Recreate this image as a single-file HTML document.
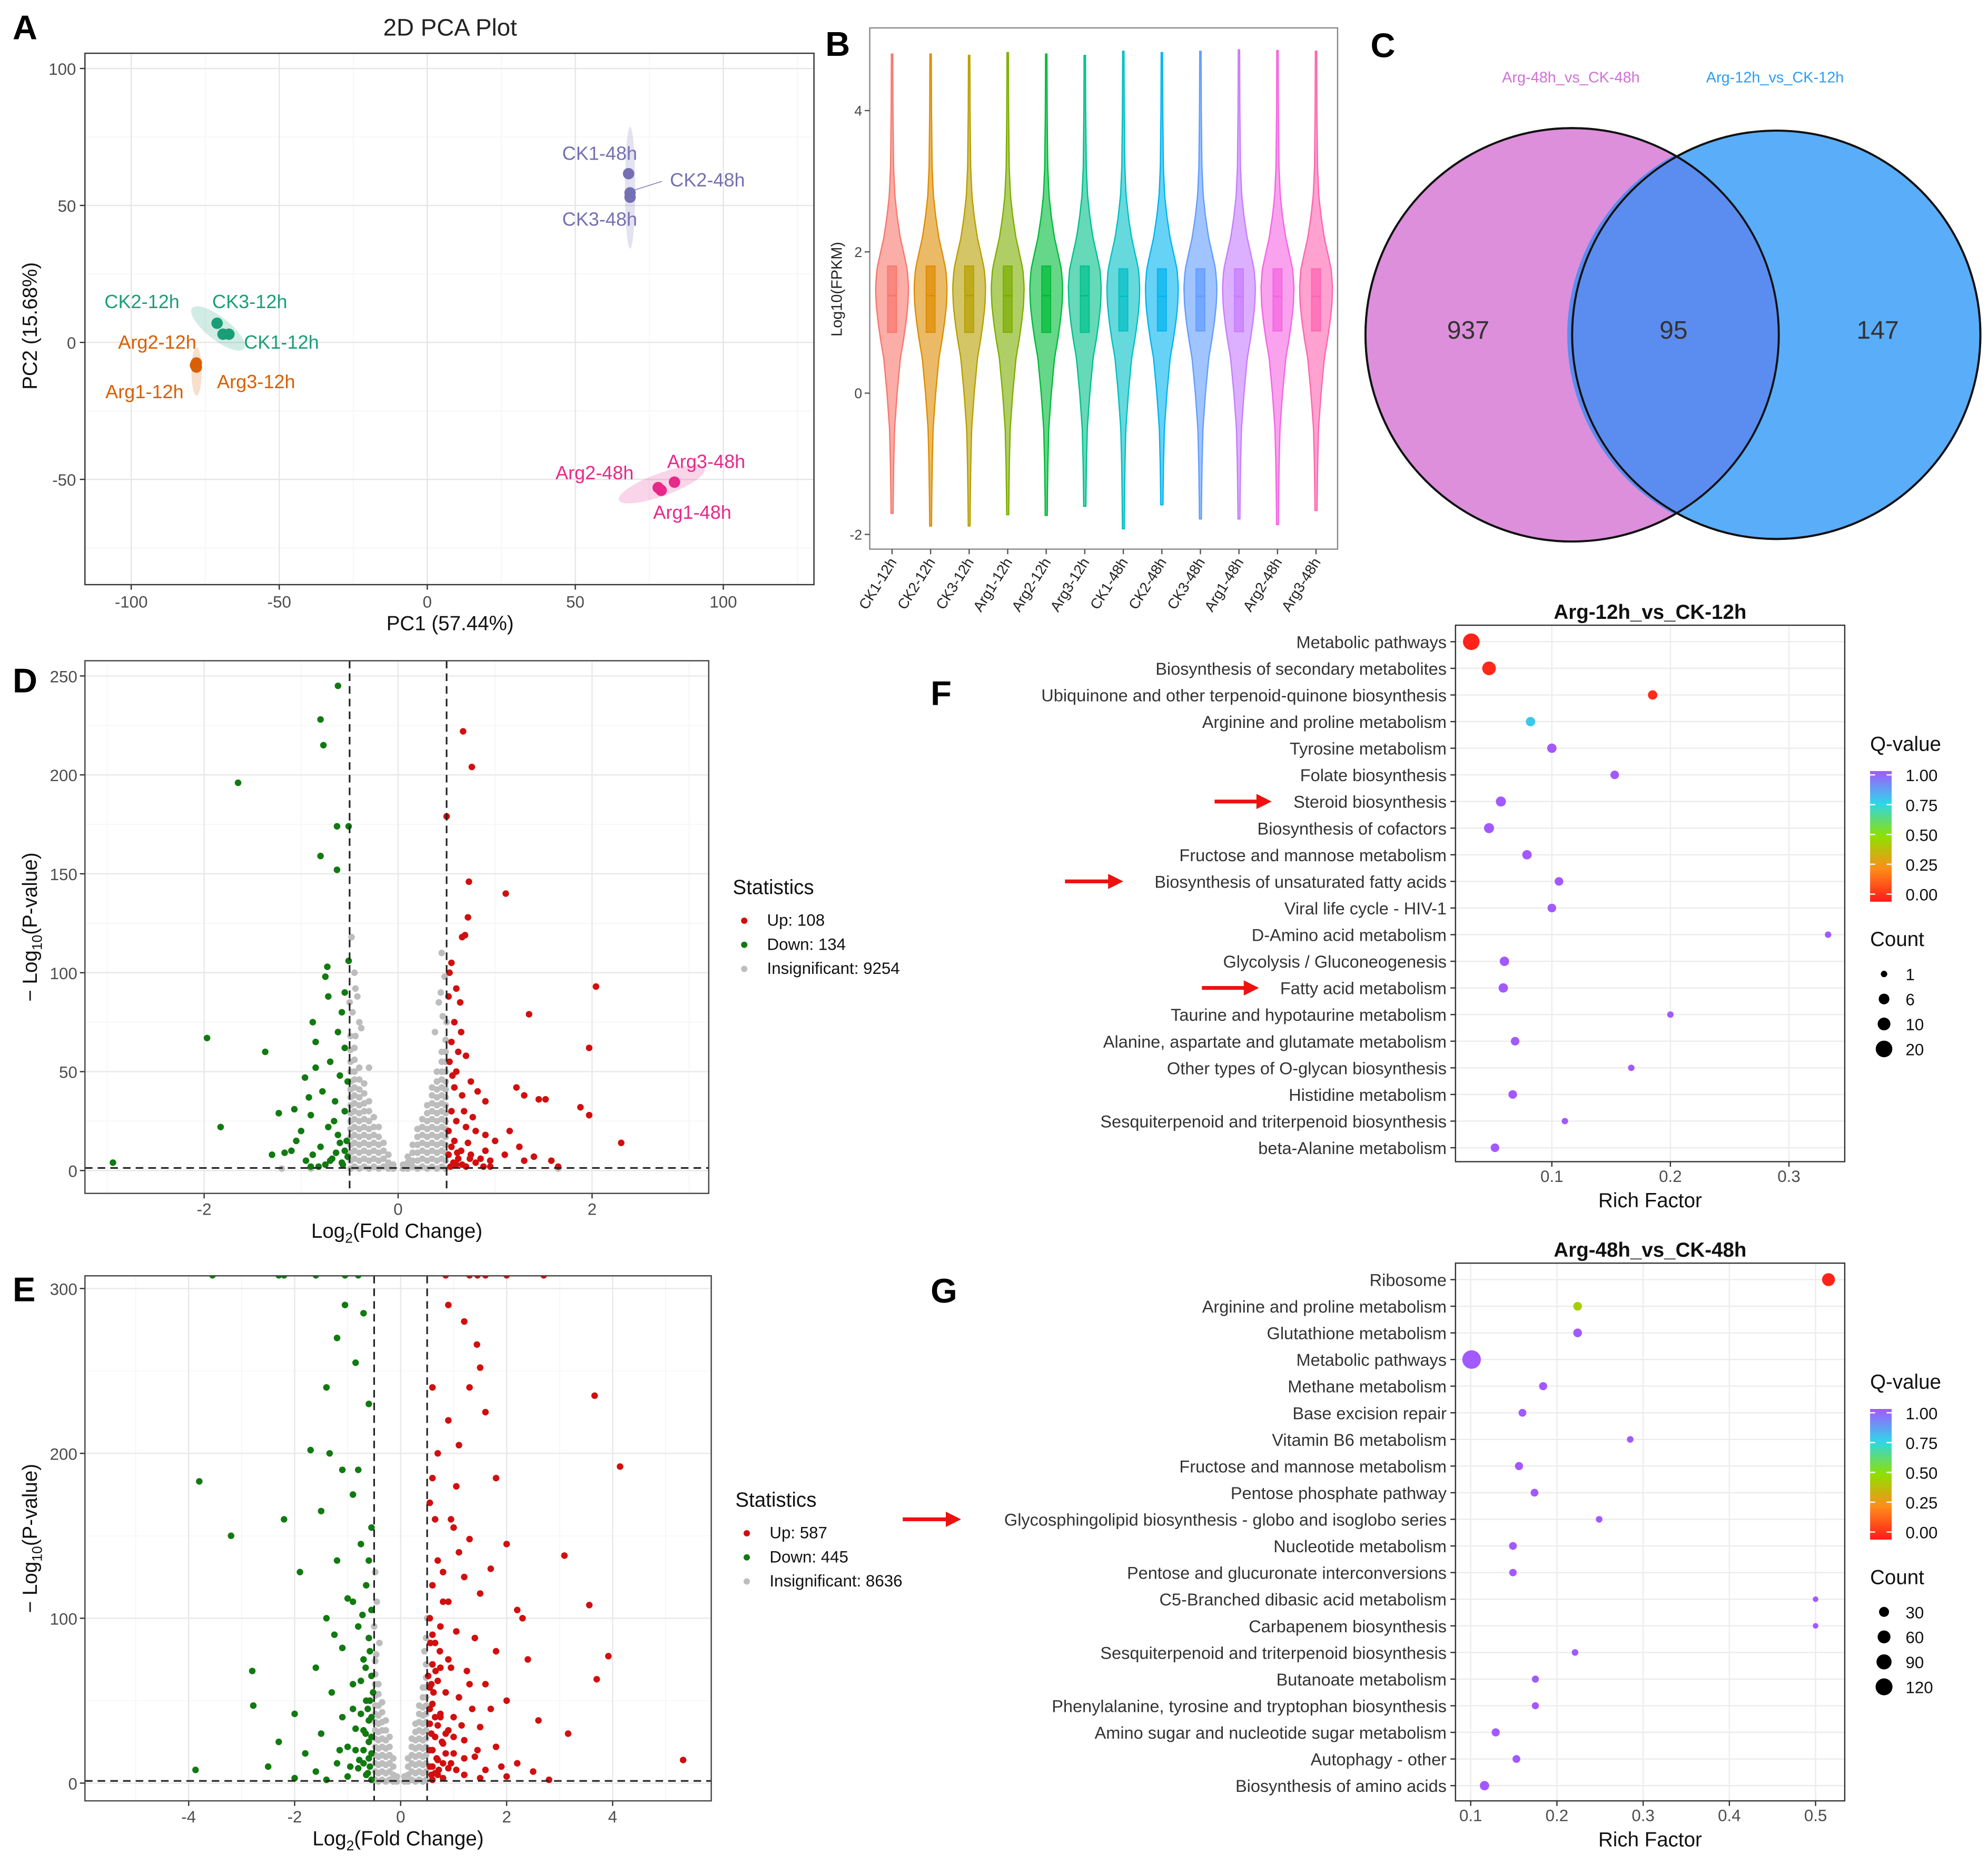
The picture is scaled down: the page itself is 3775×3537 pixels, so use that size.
<!DOCTYPE html>
<html><head><meta charset="utf-8"><style>
html,body{margin:0;padding:0;background:#fff}
svg{display:block;font-family:"Liberation Sans",Arial,sans-serif}
</style></head><body>
<svg id="fig" xmlns="http://www.w3.org/2000/svg" width="3775" height="3537" viewBox="0 0 1568 1469" preserveAspectRatio="none">
<rect x="0" y="0" width="1568" height="1469" fill="#fff"/>
<defs>
<linearGradient id="qgrad" x1="0" y1="1" x2="0" y2="0">
<stop offset="0" stop-color="#ff1a1a"/><stop offset="0.25" stop-color="#ff8c1a"/><stop offset="0.5" stop-color="#8fe000"/><stop offset="0.75" stop-color="#2fd6e8"/><stop offset="1" stop-color="#a259ff"/>
</linearGradient>
<clipPath id="clipE"><rect x="67" y="1006" width="494" height="414"/></clipPath>
<clipPath id="clipD"><rect x="67" y="521" width="492" height="420"/></clipPath>
</defs>
</svg>
<script>
// ---------- DATA ----------
const pcaSamples=["CK1-48h","CK2-48h","CK3-48h","CK2-12h","CK3-12h","CK1-12h","Arg2-12h","Arg1-12h","Arg3-12h","Arg2-48h","Arg3-48h","Arg1-48h"];
const pcaPC1=[68,68.5,68.5,-71,-69,-67,-78,-78,-78.3,78,83.5,79];
const pcaPC2=[61.6,54.6,53,7,3,3,-7.5,-9,-8.3,-53,-51,-54];
const pcaXTicks=[-100,-50,0,50,100];
const pcaYTicks=[100,50,0,-50];
const vioSamples=["CK1-12h","CK2-12h","CK3-12h","Arg1-12h","Arg2-12h","Arg3-12h","CK1-48h","CK2-48h","CK3-48h","Arg1-48h","Arg2-48h","Arg3-48h"];
const vioMax=[4.8,4.8,4.78,4.82,4.8,4.78,4.84,4.82,4.84,4.86,4.85,4.84];
const vioMin=[-1.7,-1.88,-1.88,-1.72,-1.73,-1.6,-1.92,-1.58,-1.78,-1.78,-1.86,-1.66];
const vioQ1=[0.86,0.86,0.86,0.86,0.86,0.86,0.88,0.88,0.88,0.87,0.88,0.88];
const vioMed=[1.38,1.38,1.38,1.38,1.38,1.38,1.37,1.37,1.37,1.37,1.37,1.37];
const vioQ3=[1.8,1.8,1.8,1.8,1.8,1.8,1.76,1.76,1.76,1.76,1.76,1.76];
const vioDensLevels=[4.9,4.0,3.2,2.8,2.5,2.2,2.0,1.75,1.5,1.25,1.0,0.75,0.5,0,-0.5,-1,-1.5,-2.1];
const vioDensWidth=[0.5,0.7,1.2,2.2,4,6.5,9,12,13,12.5,11,9,6.6,4,2,1.3,0.9,0.6];
const vioTicks=[4,2,0,-2];
const vennLeft=937, vennBoth=95, vennRight=147;
const dUp=[[0.67,222],[0.76,204],[0.5,179],[0.73,146],[1.11,140],[0.72,128],[0.69,119],[0.66,118],[2.04,93],[1.35,79],[1.97,62],[0.55,105],[0.6,92],[0.52,88],[0.58,75],[0.65,70],[0.55,65],[0.62,60],[0.7,58],[0.53,55],[0.6,50],[0.75,45],[0.82,40],[0.58,42],[0.66,38],[0.9,35],[1.22,42],[1.3,38],[1.45,36],[1.52,36],[1.88,32],[1.97,28],[2.3,14],[0.55,30],[0.6,25],[0.7,22],[0.8,20],[0.9,18],[1.0,15],[0.55,12],[0.65,10],[0.75,8],[0.85,6],[0.95,5],[1.1,8],[1.25,12],[1.4,7],[1.58,5],[0.6,3],[0.7,2],[0.8,4],[0.52,20],[0.58,15],[0.62,6],[0.72,14],[0.9,10],[1.15,20],[1.3,5],[0.68,30],[0.56,48],[0.64,85],[0.53,100],[0.77,27],[0.52,8],[0.57,4],[0.66,3],[0.74,6],[0.61,9],[0.54,2],[0.88,2],[0.95,2],[1.65,2]];
const dDown=[[-0.62,245],[-0.8,228],[-0.77,215],[-1.65,196],[-0.63,174],[-0.51,174],[-0.8,159],[-0.63,152],[-1.97,67],[-1.83,22],[-2.94,4],[-1.37,60],[-1.23,29],[-1.07,31],[-0.92,37],[-0.96,47],[-1.17,9],[-1.3,8],[-0.51,106],[-0.73,103],[-0.75,98],[-0.72,88],[-0.55,90],[-0.58,80],[-0.88,75],[-0.62,70],[-0.55,62],[-0.7,55],[-0.85,52],[-0.6,48],[-0.78,40],[-0.65,35],[-0.55,30],[-0.9,28],[-0.72,22],[-1.0,20],[-0.62,18],[-0.8,12],[-0.55,10],[-0.68,6],[-0.95,5],[-1.1,10],[-0.75,3],[-0.58,4],[-1.05,15],[-0.85,65],[-0.52,45],[-0.66,25],[-0.88,8],[-0.6,14],[-0.52,7],[-0.57,3],[-0.64,9],[-0.7,5],[-0.53,15],[-0.82,2],[-0.9,2]];
const dNsSparse=[[-0.48,118],[-0.44,92],[-0.45,100],[-0.5,85],[-0.42,88],[-0.47,80],[-0.4,75],[-0.44,68],[-0.38,72],[0.45,110],[0.48,98],[0.42,85],[0.46,78],[0.38,70],[0.5,75],[0.44,90],[-1.2,1],[-0.9,1],[1.65,1],[-0.3,52]];
// columns of the dense insignificant cloud: [log2FC, list of -log10 p]
const dNsCols=[[0.05,[1,3]],[0.1,[1,4,7]],[0.15,[2,5,9,13]],[0.2,[1,5,9,13,17,21]],[0.25,[2,6,10,14,18,22,26]],[0.3,[1,5,9,13,17,21,25,29,33]],[0.35,[2,6,10,14,18,22,26,30,34,38,42]],[0.4,[1,5,9,13,17,21,25,29,33,37,41,45,50]],[0.45,[2,6,10,14,18,22,26,30,34,38,42,46,50,55,60]],[0.49,[1,5,9,13,17,21,25,29,33,37,41,45,50,55,60,66]],
[-0.05,[1,3]],[-0.1,[1,4,8]],[-0.15,[2,6,10,14]],[-0.2,[1,5,9,13,17,22]],[-0.25,[2,6,10,14,18,22,27]],[-0.3,[1,5,9,13,17,21,25,30,35]],[-0.35,[2,6,10,14,18,22,26,30,34,39,44]],[-0.4,[1,5,9,13,17,21,25,29,33,37,41,46,52]],[-0.45,[2,6,10,14,18,22,26,30,34,38,42,46,50,56,62]],[-0.49,[1,5,9,13,17,21,25,29,33,37,41,45,50,55,61,68]]];
const dXTicks=[-2,0,2];
const dYTicks=[0,50,100,150,200,250];
const eUp=[[0.85,308],[1.3,308],[1.45,308],[1.6,308],[2.0,308],[2.7,308],[1.44,266],[1.5,252],[1.3,240],[1.6,225],[0.9,220],[1.1,205],[3.66,235],[4.14,192],[1.8,185],[0.55,170],[0.65,160],[1.0,155],[1.3,148],[2.0,145],[3.09,138],[0.7,135],[0.8,128],[1.2,125],[0.6,120],[1.5,115],[0.9,110],[3.56,108],[2.2,105],[0.55,100],[0.75,95],[1.05,92],[1.4,88],[0.65,85],[1.8,80],[3.92,77],[2.4,75],[0.6,72],[0.95,70],[1.25,68],[3.7,63],[0.7,62],[1.6,60],[0.55,58],[0.85,55],[1.1,52],[2.0,50],[0.6,48],[1.35,45],[0.75,42],[1.0,40],[2.6,38],[0.55,36],[1.5,34],[0.9,32],[3.16,30],[0.65,28],[1.2,26],[0.8,24],[1.8,22],[0.6,20],[1.0,18],[1.4,16],[5.33,14],[0.7,14],[2.2,12],[0.55,10],[0.9,9],[1.6,8],[2.5,7],[0.65,6],[1.2,5],[2.0,4],[0.8,3],[1.5,3],[2.8,2],[0.6,2],[0.75,40],[0.6,90],[0.52,65],[0.58,30],[0.68,15],[0.9,75],[1.15,35],[0.8,110],[1.05,180],[0.7,200],[1.2,280],[0.9,290],[0.6,240],[2.3,100],[1.7,130],[0.55,45],[0.62,55],[0.7,35],[0.78,25],[0.85,18],[0.95,12],[1.05,8],[0.58,5],[0.72,8],[0.66,68],[0.74,80],[0.56,85],[1.1,140],[0.95,160],[0.6,185],[1.3,60],[1.45,20],[1.7,45],[1.9,10],[0.55,20],[0.6,10],[0.7,5],[0.8,12],[0.65,40],[0.85,30],[0.58,60],[0.75,70],[1.0,28],[1.2,15]];
const eDown=[[-3.55,308],[-2.3,308],[-2.2,308],[-1.6,308],[-1.05,308],[-0.8,308],[-1.05,290],[-0.7,285],[-1.2,270],[-0.85,255],[-1.4,240],[-0.6,230],[-1.7,202],[-1.34,200],[-2.2,160],[-3.8,183],[-3.2,150],[-1.1,190],[-0.9,175],[-1.5,165],[-0.55,155],[-0.75,145],[-1.2,135],[-1.9,128],[-0.65,120],[-1.0,112],[-0.55,105],[-1.4,100],[-0.8,95],[-0.6,88],[-1.1,82],[-2.8,68],[-0.7,75],[-1.6,70],[-0.55,65],[-0.9,60],[-1.3,55],[-2.78,47],[-0.65,50],[-2.0,42],[-1.1,40],[-0.6,38],[-0.85,33],[-1.5,30],[-0.55,28],[-2.3,25],[-1.0,22],[-0.7,20],[-1.8,18],[-0.6,15],[-1.2,12],[-2.5,10],[-0.8,9],[-3.87,8],[-1.6,7],[-0.65,5],[-1.0,4],[-2.0,3],[-0.55,2],[-1.4,2],[-0.75,62],[-0.58,80],[-0.62,45],[-0.9,110],[-1.25,90],[-0.55,40],[-0.6,25],[-0.7,32],[-0.78,14],[-0.58,10],[-0.66,70],[-0.52,55],[-0.9,45],[-1.15,20],[-0.72,102],[-0.6,135],[-0.8,190],[-0.55,18],[-0.62,6],[-0.7,12],[-0.85,20],[-0.95,10],[-0.66,30],[-0.58,50],[-0.75,42]];
const eNsSparse=[[-0.48,128],[-0.45,110],[-0.5,95],[-0.4,85],[0.5,100],[0.48,88],[0.45,80],[-0.46,78]];
const eNsCols=[[0.07,[1,4]],[0.14,[1,5,10,15]],[0.21,[2,7,12,17,22,27]],[0.28,[1,6,11,16,21,26,31,36]],[0.35,[2,7,12,17,22,27,32,37,42,47]],[0.42,[1,6,11,16,21,26,31,36,41,46,52,58]],[0.48,[2,7,12,17,22,27,32,37,42,47,52,58,64,72]],
[-0.07,[1,4]],[-0.14,[1,5,10,15]],[-0.21,[2,7,12,17,22,28]],[-0.28,[1,6,11,16,21,26,32,38]],[-0.35,[2,7,12,17,22,27,32,37,43,49]],[-0.42,[1,6,11,16,21,26,31,36,41,47,54,60]],[-0.48,[2,7,12,17,22,27,32,37,42,47,53,60,66,74]]];
const eXTicks=[-4,-2,0,2,4];
const eYTicks=[0,100,200,300];
const fTerms=["Metabolic pathways","Biosynthesis of secondary metabolites","Ubiquinone and other terpenoid-quinone biosynthesis","Arginine and proline metabolism","Tyrosine metabolism","Folate biosynthesis","Steroid biosynthesis","Biosynthesis of cofactors","Fructose and mannose metabolism","Biosynthesis of unsaturated fatty acids","Viral life cycle - HIV-1","D-Amino acid metabolism","Glycolysis / Gluconeogenesis","Fatty acid metabolism","Taurine and hypotaurine metabolism","Alanine, aspartate and glutamate metabolism","Other types of O-glycan biosynthesis","Histidine metabolism","Sesquiterpenoid and triterpenoid biosynthesis","beta-Alanine metabolism"];
const fRich=[0.032,0.047,0.185,0.082,0.1,0.153,0.057,0.047,0.079,0.106,0.1,0.333,0.06,0.059,0.2,0.069,0.167,0.067,0.111,0.052];
const fQ=[0.02,0.03,0.04,0.78,1,1,1,1,1,1,1,1,1,1,1,1,1,1,1,1];
const fCount=[20,12,4,4,4,3,5,5,4,3,3,1,4,4,1,3,1,3,1,3];
const fXTicks=[0.1,0.2,0.3];
const fCountLegend=[1,6,10,20];
const gTerms=["Ribosome","Arginine and proline metabolism","Glutathione metabolism","Metabolic pathways","Methane metabolism","Base excision repair","Vitamin B6 metabolism","Fructose and mannose metabolism","Pentose phosphate pathway","Glycosphingolipid biosynthesis - globo and isoglobo series","Nucleotide metabolism","Pentose and glucuronate interconversions","C5-Branched dibasic acid metabolism","Carbapenem biosynthesis","Sesquiterpenoid and triterpenoid biosynthesis","Butanoate metabolism","Phenylalanine, tyrosine and tryptophan biosynthesis","Amino sugar and nucleotide sugar metabolism","Autophagy - other","Biosynthesis of amino acids"];
const gRich=[0.515,0.224,0.224,0.101,0.184,0.16,0.285,0.156,0.174,0.249,0.149,0.149,0.5,0.5,0.221,0.175,0.175,0.129,0.153,0.116];
const gQ=[0.02,0.45,1,1,1,1,1,1,1,1,1,1,1,1,1,1,1,1,1,1];
const gCount=[60,20,20,150,16,14,8,16,14,8,14,12,4,4,8,10,10,16,14,25];
const gXTicks=[0.1,0.2,0.3,0.4,0.5];
const gCountLegend=[30,60,90,120];

// ---------- HELPERS ----------
const NS="http://www.w3.org/2000/svg";
const svg=document.getElementById('fig');
function el(tag,attrs,parent){const e=document.createElementNS(NS,tag);for(const k in attrs)e.setAttribute(k,attrs[k]);(parent||svg).appendChild(e);return e;}
function txt(x,y,s,size,anchor,fill,parent,extra){const t=el('text',Object.assign({x:x,y:y,'font-size':size,'text-anchor':anchor||'start',fill:fill||'#222'},extra||{}),parent);t.textContent=s;return t;}
function qColor(q){const st=[[0,[255,26,26]],[0.25,[255,140,26]],[0.5,[143,224,0]],[0.75,[47,214,232]],[1,[162,89,255]]];for(let i=0;i<4;i++){if(q<=st[i+1][0]){const f=(q-st[i][0])/(st[i+1][0]-st[i][0]);const c=st[i][1].map((v,j)=>Math.round(v+(st[i+1][1][j]-v)*f));return 'rgb('+c.join(',')+')';}}return 'rgb(162,89,255)';}
function expandCols(cols){const out=[];cols.forEach(c=>c[1].forEach(v=>out.push([c[0],v])));return out;}

[["A",10,31],["B",651,44],["C",1081,45],["D",10,546],["E",10,1026],["F",734,556],["G",734,1027]].forEach(p=>{
 const t=txt(p[1],p[2],p[0],27,'start','#000',svg,{'font-weight':'bold'});
 
 
});

// ---------- PANEL A ----------
(function(){
 const g=el('g',{});
 
 
 const X=v=>337+v*2.335, Y=v=>270-v*2.16;
 el('rect',{x:67,y:42,width:575,height:419,fill:'#fff'},g);
 [-75,-25,25,75,125].forEach(v=>el('line',{x1:X(v),x2:X(v),y1:42,y2:461,stroke:'#f3f3f3','stroke-width':0.6},g));
 [75,25,-25,-75].forEach(v=>el('line',{x1:67,x2:642,y1:Y(v),y2:Y(v),stroke:'#f3f3f3','stroke-width':0.6},g));
 pcaXTicks.forEach(v=>{el('line',{x1:X(v),x2:X(v),y1:42,y2:461,stroke:'#e6e6e6','stroke-width':1},g);el('line',{x1:X(v),x2:X(v),y1:461,y2:465,stroke:'#333'},g);
  const t=txt(X(v),479,String(v),13,'middle','#4d4d4d',g);});
 pcaYTicks.forEach(v=>{el('line',{x1:67,x2:642,y1:Y(v),y2:Y(v),stroke:'#e6e6e6','stroke-width':1},g);el('line',{x1:63,x2:67,y1:Y(v),y2:Y(v),stroke:'#333'},g);
  const t=txt(60,Y(v)+5,String(v),13,'end','#4d4d4d',g);});
 el('rect',{x:67,y:42,width:575,height:419,fill:'none',stroke:'#333','stroke-width':1},g);
 const ti=txt(355,28,'2D PCA Plot',19,'middle','#222',g);
 const xl=txt(355,497,'PC1 (57.44%)',16,'middle','#111',g);
 const yl=txt(0,0,'PC2 (15.68%)',16,'middle','#111',g,{transform:'translate(29,257) rotate(-90)'});
 const ells=[[497,148,4,48,0,'#7570b3'],[172,259,26,9,38,'#1b9e77'],[155,293,4,19,0,'#d95f02'],[522,382,36,9,-20,'#e7298a']];
 ells.forEach(e=>{const c=el('ellipse',{cx:e[0],cy:e[1],rx:e[2],ry:e[3],fill:e[5],'fill-opacity':0.2,transform:'rotate('+e[4]+' '+e[0]+' '+e[1]+')'},g);});
 const cols={"48hCK":'#7570b3',"12hCK":'#1b9e77',"12hArg":'#d95f02',"48hArg":'#e7298a'};
 const lab=[[473,126],[558,147],[473,178],[112,243],[197,243],[222,275],[124,275],[114,314],[202,306],[469,378],[557,369],[546,409]];
 pcaSamples.forEach((s,i)=>{const key=s.slice(-3)+(s.startsWith('CK')?'CK':'Arg');const c=cols[key];
  const p=el('circle',{cx:X(pcaPC1[i]),cy:Y(pcaPC2[i]),r:4.5,fill:c},g);
  const t=txt(lab[i][0],lab[i][1],s,15,'middle',c,g);});
 el('line',{x1:500,y1:150,x2:522,y2:143,stroke:'#7570b3','stroke-width':0.6},g);
})();

// ---------- PANEL B ----------
(function(){
 const g=el('g',{});
 
 
 const Y=v=>310-v*55.7, X=i=>703.6+i*30.4;
 el('rect',{x:686,y:22,width:369,height:411,fill:'#fff',stroke:'#888','stroke-width':1},g);
 vioTicks.forEach(v=>{el('line',{x1:682,x2:686,y1:Y(v),y2:Y(v),stroke:'#555'},g);
  const t=txt(680,Y(v)+4,String(v),11,'end','#444',g);});
 const yl=txt(0,0,'Log10(FPKM)',12,'middle','#222',g,{transform:'translate(664,228) rotate(-90)'});
 const cols=['#F8766D','#DE8C00','#B79F00','#7CAE00','#00BA38','#00C08B','#00BFC4','#00B4F0','#619CFF','#C77CFF','#F564E3','#FF64B0'];
 function hw(v){const L=vioDensLevels,W=vioDensWidth;for(let k=0;k<L.length-1;k++){if(v<=L[k]&&v>=L[k+1]){const f=(L[k]-v)/(L[k]-L[k+1]);return W[k]+(W[k+1]-W[k])*f;}}return 0.5;}
 vioSamples.forEach((s,i)=>{const cx=X(i),c=cols[i];const pts=[];const n=80;
  for(let k=0;k<=n;k++){const v=vioMax[i]-(vioMax[i]-vioMin[i])*k/n;pts.push([cx+hw(v),Y(v)]);}
  const left=pts.slice().reverse().map(p=>[2*cx-p[0],p[1]]);
  const d='M'+pts.concat(left).map(p=>p[0].toFixed(2)+','+p[1].toFixed(2)).join('L')+'Z';
  const pv=el('path',{d:d,fill:c,'fill-opacity':0.6,stroke:c,'stroke-width':1},g);
  const b=el('rect',{x:cx-3.5,y:Y(vioQ3[i]),width:7,height:Y(vioQ1[i])-Y(vioQ3[i]),fill:c,'fill-opacity':0.7,stroke:c,'stroke-width':0.8},g);
  el('line',{x1:cx-3.5,x2:cx+3.5,y1:Y(vioMed[i]),y2:Y(vioMed[i]),stroke:c,'stroke-width':1.2},g);
  el('line',{x1:cx,x2:cx,y1:433,y2:437,stroke:'#555'},g);
  const t=txt(0,0,s,11.5,'end','#222',g,{transform:'translate('+(cx+4)+',443) rotate(-58)'});});
})();

// ---------- PANEL C ----------
(function(){
 const g=el('g',{});
 
 
 const a=el('circle',{cx:1240,cy:264,r:163,fill:'#dd8fdb',stroke:'#111','stroke-width':1.6},g);
 const b=el('circle',{cx:1401,cy:264,r:161,fill:'#5aadf9',stroke:'#111','stroke-width':1.6},g);
 el('path',{d:'M1320.5,122.4 A163,163 0 0 1 1320.5,405.6 A161,161 0 0 1 1320.5,122.4Z',fill:'#5b8df0',stroke:'none'},g);
 el('circle',{cx:1240,cy:264,r:163,fill:'none',stroke:'#111','stroke-width':1.6},g);
 el('circle',{cx:1401,cy:264,r:161,fill:'none',stroke:'#111','stroke-width':1.6},g);
 [[1158,vennLeft,'venn-count-left'],[1320,vennBoth,'venn-count-overlap'],[1481,vennRight,'venn-count-right']].forEach(v=>{const t=txt(v[0],267,String(v[1]),20,'middle','#333',g);});
 const t1=txt(1239,65,'Arg-48h_vs_CK-48h',12,'middle','#d070d6',g);
 const t2=txt(1400,65,'Arg-12h_vs_CK-12h',12,'middle','#2d9cf2',g);
})();

// ---------- Volcano ----------
function volcano(cfg){
 const g=el('g',{});
 
 
 const X=v=>cfg.x0+v*cfg.sx, Y=v=>cfg.y0-v*cfg.sy;
 el('rect',{x:cfg.L,y:cfg.T,width:cfg.R-cfg.L,height:cfg.B-cfg.T,fill:'#fff'},g);
 cfg.xminor.forEach(v=>el('line',{x1:X(v),x2:X(v),y1:cfg.T,y2:cfg.B,stroke:'#f4f4f4','stroke-width':0.6},g));
 cfg.yminor.forEach(v=>el('line',{x1:cfg.L,x2:cfg.R,y1:Y(v),y2:Y(v),stroke:'#f4f4f4','stroke-width':0.6},g));
 cfg.xt.forEach(v=>{el('line',{x1:X(v),x2:X(v),y1:cfg.T,y2:cfg.B,stroke:'#e8e8e8'},g);el('line',{x1:X(v),x2:X(v),y1:cfg.B,y2:cfg.B+4,stroke:'#333'},g);
  const t=txt(X(v),cfg.B+17,String(v),13,'middle','#4d4d4d',g);});
 cfg.yt.forEach(v=>{el('line',{x1:cfg.L,x2:cfg.R,y1:Y(v),y2:Y(v),stroke:'#e8e8e8'},g);el('line',{x1:cfg.L-4,x2:cfg.L,y1:Y(v),y2:Y(v),stroke:'#333'},g);
  const t=txt(cfg.L-6,Y(v)+5,String(v),13,'end','#4d4d4d',g);});
 const pg=el('g',{'clip-path':cfg.clip},g);
 const r=cfg.r;
 cfg.ns.forEach(p=>{const c=el('circle',{cx:X(p[0]),cy:Y(p[1]),r:r,fill:'#bdbdbd'},pg);});
 cfg.down.forEach(p=>{const c=el('circle',{cx:X(p[0]),cy:Y(p[1]),r:r,fill:'#117a11'},pg);});
 cfg.up.forEach(p=>{const c=el('circle',{cx:X(p[0]),cy:Y(p[1]),r:r,fill:'#d10f0f'},pg);});
 [-0.5,0.5].forEach(v=>el('line',{x1:X(v),x2:X(v),y1:cfg.T,y2:cfg.B,stroke:'#222','stroke-width':1.3,'stroke-dasharray':'6,4'},g));
 el('line',{x1:cfg.L,x2:cfg.R,y1:Y(1.3),y2:Y(1.3),stroke:'#222','stroke-width':1.3,'stroke-dasharray':'6,4'},g);
 el('rect',{x:cfg.L,y:cfg.T,width:cfg.R-cfg.L,height:cfg.B-cfg.T,fill:'none',stroke:'#444','stroke-width':1},g);
 const cx=(cfg.L+cfg.R)/2;
 const xl=txt(cx,cfg.B+35,'',16,'middle','#111',g);xl.innerHTML='Log<tspan font-size="11" dy="4">2</tspan><tspan dy="-4">(Fold Change)</tspan>';
 
 
 const ym=(cfg.T+cfg.B)/2;
 const yl=txt(0,0,'',16,'middle','#111',g,{transform:'translate(29,'+ym+') rotate(-90)'});yl.innerHTML='− Log<tspan font-size="11" dy="4">10</tspan><tspan dy="-4">(P-value)</tspan>';
 
 
 const lg=el('g',{},g);
 
 
 txt(cfg.lx,cfg.ly,'Statistics',16,'start','#111',lg);
 [['#d10f0f','Up: '+cfg.nUp],['#117a11','Down: '+cfg.nDown],['#bdbdbd','Insignificant: '+cfg.nNs]].forEach((e,i)=>{
  const yy=cfg.ly+25+i*19;el('circle',{cx:cfg.lx+9,cy:yy-4,r:2.5,fill:e[0]},lg);
  const t=txt(cfg.lx+27,yy,e[1],13,'start','#111',lg);});
}
volcano({name:'volcano-12h',L:67,R:559,T:521,B:941,x0:314,sx:76.5,y0:923,sy:1.56,xt:dXTicks,yt:dYTicks,xminor:[-3,-1,1,3],yminor:[25,75,125,175,225],up:dUp,down:dDown,ns:dNsSparse.concat(expandCols(dNsCols)),r:2.6,clip:'url(#clipD)',lx:578,ly:705,nUp:108,nDown:134,nNs:9254});
volcano({name:'volcano-48h',L:67,R:561,T:1006,B:1420,x0:316,sx:41.8,y0:1406,sy:1.3,xt:eXTicks,yt:eYTicks,xminor:[-5,-3,-1,1,3,5],yminor:[50,150,250],up:eUp,down:eDown,ns:eNsSparse.concat(expandCols(eNsCols)),r:2.6,clip:'url(#clipE)',lx:580,ly:1188,nUp:587,nDown:445,nNs:8636});

// ---------- Enrichment bubble ----------
function bubble(cfg){
 const g=el('g',{});
 
 
 const X=v=>cfg.x0+v*cfg.sx, Y=i=>cfg.rowTop+i*21;
 el('rect',{x:cfg.L,y:cfg.T,width:cfg.R-cfg.L,height:cfg.B-cfg.T,fill:'#fff'},g);
 cfg.xt.forEach(v=>{el('line',{x1:X(v),x2:X(v),y1:cfg.T,y2:cfg.B,stroke:'#ececec'},g);el('line',{x1:X(v),x2:X(v),y1:cfg.B,y2:cfg.B+4,stroke:'#333'},g);
  const t=txt(X(v),cfg.B+16,String(v),13,'middle','#4d4d4d',g);});
 cfg.terms.forEach((s,i)=>{el('line',{x1:cfg.L,x2:cfg.R,y1:Y(i),y2:Y(i),stroke:'#ececec'},g);el('line',{x1:cfg.L-4,x2:cfg.L,y1:Y(i),y2:Y(i),stroke:'#333'},g);
  const t=txt(cfg.L-7,Y(i)+5,s,13.5,'end','#333',g);});
 cfg.terms.forEach((s,i)=>{const c=el('circle',{cx:X(cfg.rich[i]),cy:Y(i),r:cfg.rad(cfg.count[i]),fill:qColor(cfg.q[i])},g);});
 el('rect',{x:cfg.L,y:cfg.T,width:cfg.R-cfg.L,height:cfg.B-cfg.T,fill:'none',stroke:'#333','stroke-width':1},g);
 const ti=txt((cfg.L+cfg.R)/2,cfg.T-5,cfg.title,16,'middle','#111',g,{'font-weight':'bold'});
 const xl=txt((cfg.L+cfg.R)/2,cfg.B+36,'Rich Factor',16,'middle','#111',g);
 const lg=el('g',{},g);
 
 
 const ly=cfg.ly;
 txt(1475,ly,'Q-value',16,'start','#111',lg);
 el('rect',{x:1475,y:ly+16,width:17,height:103,fill:'url(#qgrad)'},lg);
 ['1.00','0.75','0.50','0.25','0.00'].forEach((s,i)=>{const yy=ly+19+i*23.5;el('line',{x1:1475,x2:1479,y1:yy,y2:yy,stroke:'#fff'},lg);el('line',{x1:1488,x2:1492,y1:yy,y2:yy,stroke:'#fff'},lg);txt(1503,yy+5,s,13,'start','#111',lg);});
 txt(1475,ly+154,'Count',16,'start','#111',lg);
 cfg.cl.forEach((c,i)=>{const yy=ly+176+i*19.7;el('circle',{cx:1486,cy:yy,r:cfg.rad(c),fill:'#000'},lg);const t=txt(1503,yy+5,String(c),13,'start','#111',lg);});
}
bubble({name:'kegg-12h',title:'Arg-12h_vs_CK-12h',L:1148,R:1455,T:493,B:916,x0:1130.5,sx:935,rowTop:506,xt:fXTicks,terms:fTerms,rich:fRich,q:fQ,count:fCount,rad:c=>1.4+Math.sqrt(c)*1.15,ly:592,cl:fCountLegend});
bubble({name:'kegg-48h',title:'Arg-48h_vs_CK-48h',L:1148,R:1455,T:996,B:1420,x0:1092,sx:680,rowTop:1009,xt:gXTicks,terms:gTerms,rich:gRich,q:gQ,count:gCount,rad:c=>1.2+Math.sqrt(c)*0.5,ly:1095,cl:gCountLegend});

[[958,1003,632],[840,886,695],[948,993,779],[712,758,1198]].forEach(a=>{
 const g=el('g',{});
 
 
 el('line',{x1:a[0],x2:a[1]-10,y1:a[2],y2:a[2],stroke:'#ee1111','stroke-width':3},g);
 el('polygon',{points:(a[1]-12)+','+(a[2]-6)+' '+a[1]+','+a[2]+' '+(a[1]-12)+','+(a[2]+6),fill:'#ee1111'},g);
});
</script>
</body></html>
